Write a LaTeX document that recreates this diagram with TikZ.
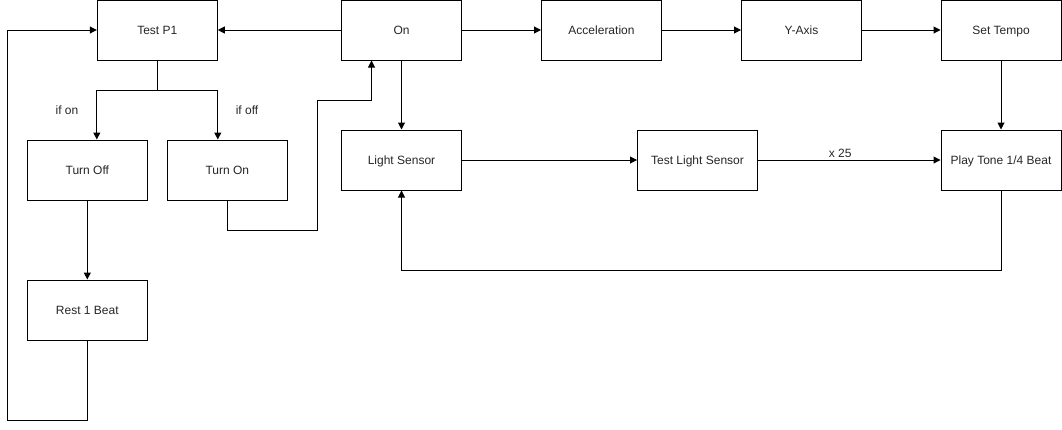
\documentclass[tikz,border=0pt]{standalone}
\usepackage{fontspec}
\setmainfont{Liberation Sans}
\usetikzlibrary{arrows.meta}
\tikzset{
    stepbox/.style = {draw, line width=1pt, minimum width=120pt, minimum height=60pt,
        inner sep=0pt, text=black!85, text height=8.6pt, text depth=0pt,
        font=\fontsize{12}{14}\selectfont},
    flowlabel/.style = {text=black!85, font=\fontsize{12}{14}\selectfont, inner sep=1pt},
    link/.style = {line width=1pt, -{Triangle[length=7pt, width=7pt]}}
}
\begin{document}
\begin{tikzpicture}[x=1pt, y=-1pt]
        \useasboundingbox (0, 0) rectangle (1062, 429);
        % top row
        \node [stepbox] (testp1) at (157.3, 30) {Test P1};
        \node [stepbox] (on) at (401.5, 30) {On};
        \node [stepbox] (accel) at (601.5, 30) {Acceleration};
        \node [stepbox] (yaxis) at (801.5, 30) {Y-Axis};
        \node [stepbox] (tempo) at (1001, 30) {Set Tempo};
        % second row
        \node [stepbox] (turnoff) at (87.3, 170) {Turn Off};
        \node [stepbox] (turnon) at (227.3, 170) {Turn On};
        \node [stepbox] (light) at (401.5, 160) {Light Sensor};
        \node [stepbox] (testlight) at (697.5, 160) {Test Light Sensor};
        \node [stepbox] (tone) at (1001, 160) {Play Tone 1/4 Beat};
        \node [stepbox] (rest) at (87.3, 310) {Rest 1 Beat};
        % branch labels
        \node [flowlabel] (ifon) at (67, 110) {if on};
        \node [flowlabel] (ifoff) at (247, 110) {if off};
        \coordinate (loopleft) at (7.3, 420);
        \coordinate (jog) at (317, 100);
        % connectors
        \draw [link] (on.west) -- (testp1.east);
        \draw [link] (on.east) -- (accel.west);
        \draw [link] (accel.east) -- (yaxis.west);
        \draw [link] (yaxis.east) -- (tempo.west);
        \draw [link] (tempo.south) -- (tone.north);
        \draw [link] (on.south) -- (light.north);
        \draw [link] (light.east) -- (testlight.west);
        \draw [link] (testlight.east) -- node [flowlabel, above=1pt, pos=0.45] {x 25} (tone.west);
        \draw [link] (tone.south) -- ++(0, 80) -| (light.south);
        \draw [link] (testp1.south) -- ++(0, 30) -| (testp1.west |- turnoff.north);
        \draw [link] (testp1.south) -- ++(0, 30) -| (testp1.east |- turnon.north);
        \draw [link] (turnoff.south) -- (rest.north);
        \draw [link] (rest.south) |- (loopleft) |- (testp1.west);
        \draw [link] (turnon.south) -- ++(0, 30) -| (jog) -| ([xshift=-30pt]on.south);
\end{tikzpicture}
\end{document}
